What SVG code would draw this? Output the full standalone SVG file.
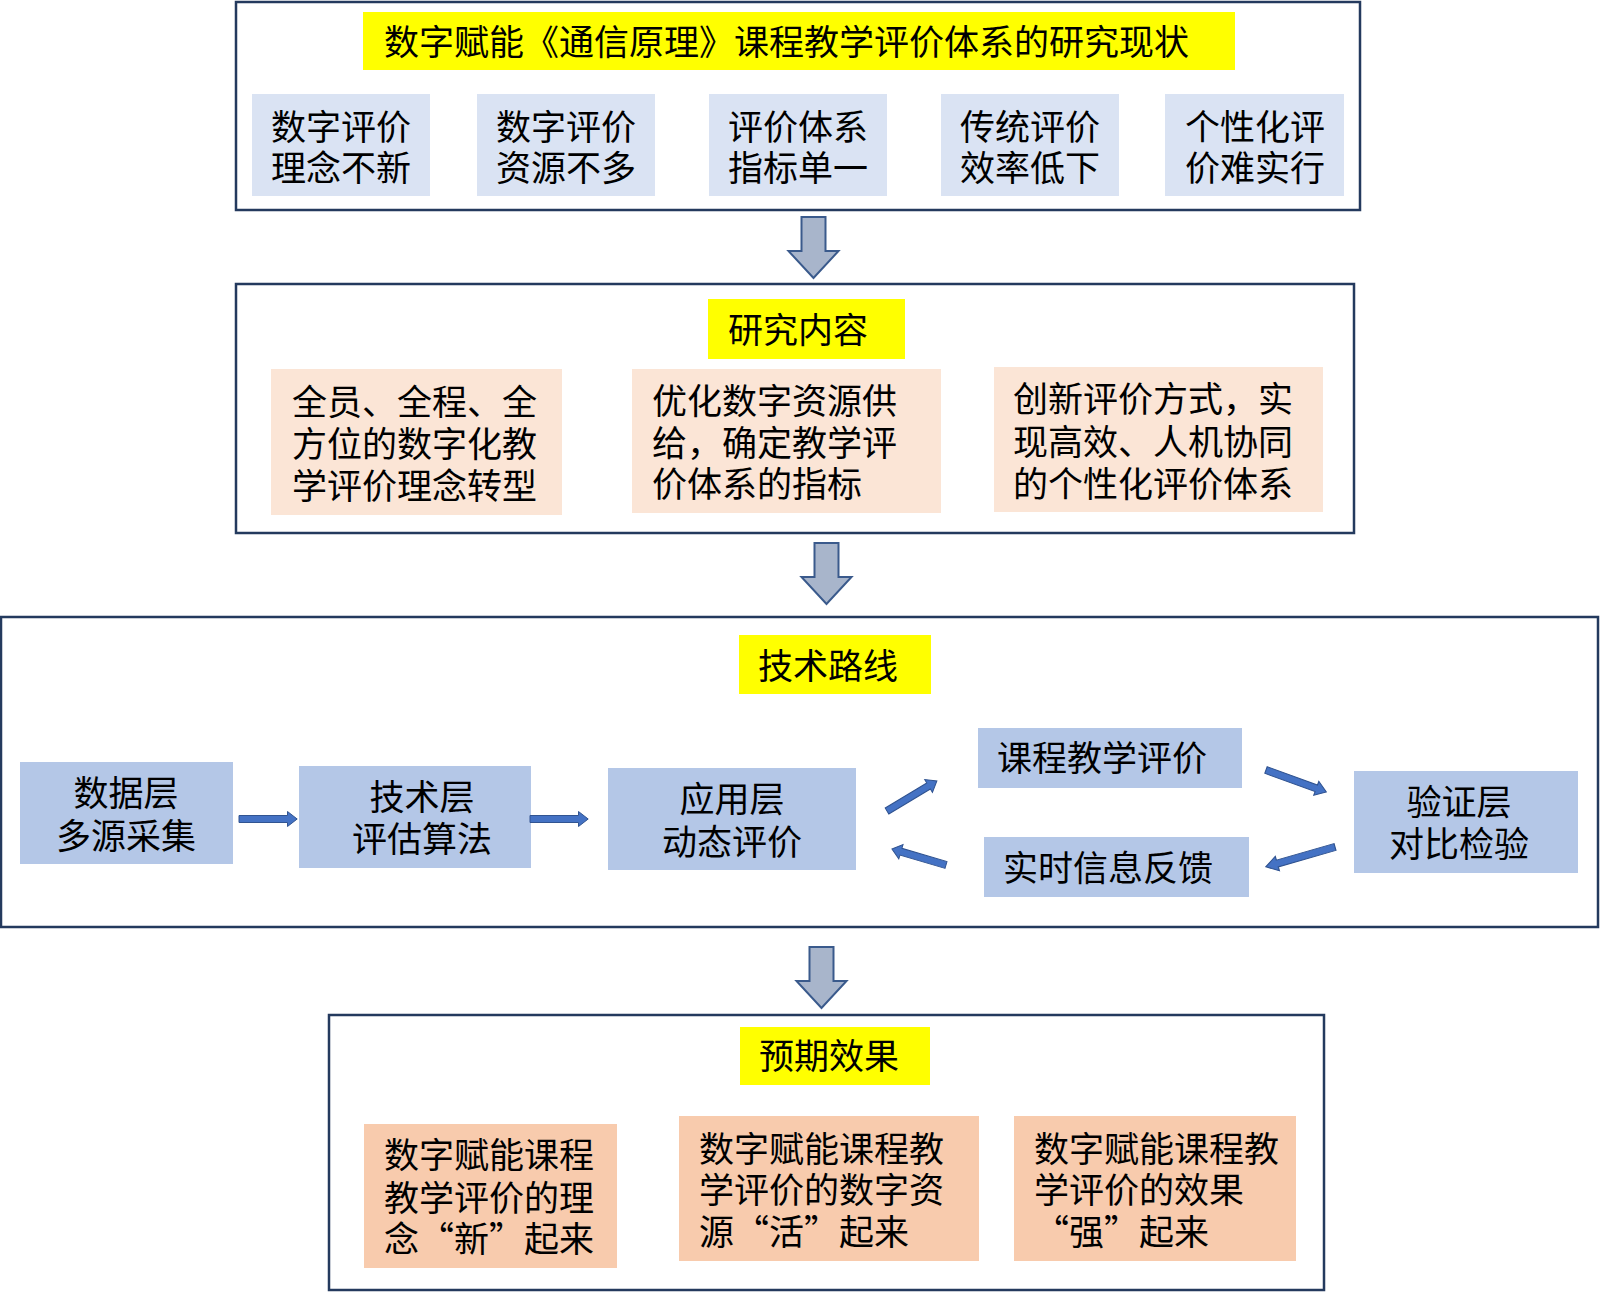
<svg xmlns="http://www.w3.org/2000/svg" xmlns:xlink="http://www.w3.org/1999/xlink" width="1600" height="1292" viewBox="0 0 1600 1292">
<style>
.frame{fill:#ffffff;stroke:#243a5e;stroke-width:2.5}
.yel{fill:#ffff00}
.lb{fill:#dae3f3}
.pk{fill:#fbe5d6}
.bl{fill:#b4c7e7}
.or{fill:#f8cbad}
text{font-family:"Noto Sans CJK SC","Noto Sans CJK JP",sans-serif;font-size:35px;fill:#000000}
.mid{text-anchor:middle}
.big{fill:#a8b5cb;stroke:#3a5a8c;stroke-width:2}
.blk{fill:#4472c4;stroke:#2f528f;stroke-width:1}
</style>
<defs>
<polygon id="down" points="-12,0 12,0 12,34 25,34 0,61 -25,34 -12,34"/>
<polygon id="ar" points="0,-3.5 50,-3.5 50,-7.5 60,0 50,7.5 50,3.5 0,3.5"/>
</defs>
<rect width="1600" height="1292" fill="#ffffff"/>

<g id="sec1">
<rect class="frame" x="236" y="2" width="1124" height="208"/>
<rect class="yel" x="363" y="12" width="872" height="58"/>
<text x="384" y="55">数字赋能《通信原理》课程教学评价体系的研究现状</text>
</g>
<g id="s1b1"><rect class="lb" x="252" y="94" width="178" height="102"/><text class="mid" x="341" y="140"><tspan x="341">数字评价</tspan><tspan x="341" dy="41">理念不新</tspan></text></g>
<g id="s1b2"><rect class="lb" x="477" y="94" width="178" height="102"/><text class="mid" x="566" y="140"><tspan x="566">数字评价</tspan><tspan x="566" dy="41">资源不多</tspan></text></g>
<g id="s1b3"><rect class="lb" x="709" y="94" width="178" height="102"/><text class="mid" x="798" y="140"><tspan x="798">评价体系</tspan><tspan x="798" dy="41">指标单一</tspan></text></g>
<g id="s1b4"><rect class="lb" x="941" y="94" width="178" height="102"/><text class="mid" x="1030" y="140"><tspan x="1030">传统评价</tspan><tspan x="1030" dy="41">效率低下</tspan></text></g>
<g id="s1b5"><rect class="lb" x="1165" y="94" width="179" height="102"/><text class="mid" x="1255" y="140"><tspan x="1255">个性化评</tspan><tspan x="1255" dy="41">价难实行</tspan></text></g>

<g id="sec2">
<rect class="frame" x="236" y="284" width="1118" height="249"/>
<rect class="yel" x="708" y="299" width="197" height="60"/>
<text x="728" y="343">研究内容</text>
</g>
<g id="s2b1"><rect class="pk" x="271" y="369" width="291" height="146"/>
<text x="292" y="415"><tspan x="292">全员、全程、全</tspan><tspan x="292" dy="42">方位的数字化教</tspan><tspan x="292" dy="42">学评价理念转型</tspan></text></g>
<g id="s2b2"><rect class="pk" x="632" y="369" width="309" height="144"/>
<text x="652" y="414"><tspan x="652">优化数字资源供</tspan><tspan x="652" dy="42">给，确定教学评</tspan><tspan x="652" dy="41">价体系的指标</tspan></text></g>
<g id="s2b3"><rect class="pk" x="994" y="367" width="329" height="145"/>
<text x="1013" y="412"><tspan x="1013">创新评价方式，实</tspan><tspan x="1013" dy="43">现高效、人机协同</tspan><tspan x="1013" dy="42">的个性化评价体系</tspan></text></g>

<g id="sec3">
<rect class="frame" x="1" y="617" width="1597" height="310"/>
<rect class="yel" x="739" y="635" width="192" height="59"/>
<text x="758" y="679">技术路线</text>
</g>
<g id="t1"><rect class="bl" x="20" y="762" width="213" height="102"/><text class="mid" x="126" y="806"><tspan x="126">数据层</tspan><tspan x="126" dy="43">多源采集</tspan></text></g>
<g id="t2"><rect class="bl" x="299" y="766" width="232" height="102"/><text class="mid" x="422" y="810"><tspan x="422">技术层</tspan><tspan x="422" dy="42">评估算法</tspan></text></g>
<g id="t3"><rect class="bl" x="608" y="768" width="248" height="102"/><text class="mid" x="732" y="812"><tspan x="732">应用层</tspan><tspan x="732" dy="43">动态评价</tspan></text></g>
<g id="t4"><rect class="bl" x="978" y="728" width="264" height="60"/><text x="997" y="771">课程教学评价</text></g>
<g id="t5"><rect class="bl" x="984" y="837" width="265" height="60"/><text x="1003" y="881">实时信息反馈</text></g>
<g id="t6"><rect class="bl" x="1354" y="771" width="224" height="102"/><text class="mid" x="1459" y="815"><tspan x="1459">验证层</tspan><tspan x="1459" dy="42">对比检验</tspan></text></g>

<g id="sec4">
<rect class="frame" x="329" y="1015" width="995" height="275"/>
<rect class="yel" x="740" y="1027" width="190" height="58"/>
<text x="759" y="1069">预期效果</text>
</g>
<g id="o1"><rect class="or" x="364" y="1124" width="253" height="144"/>
<text x="384" y="1168"><tspan x="384">数字赋能课程</tspan><tspan x="384" dy="43">教学评价的理</tspan><tspan x="384" dy="41">念“新”起来</tspan></text></g>
<g id="o2"><rect class="or" x="679" y="1116" width="300" height="145"/>
<text x="699" y="1162"><tspan x="699">数字赋能课程教</tspan><tspan x="699" dy="41">学评价的数字资</tspan><tspan x="699" dy="42">源“活”起来</tspan></text></g>
<g id="o3"><rect class="or" x="1014" y="1116" width="282" height="145"/>
<text x="1034" y="1162"><tspan x="1034">数字赋能课程教</tspan><tspan x="1034" dy="41">学评价的效果</tspan><tspan x="1034" dy="42">“强”起来</tspan></text></g>

<g id="connectors">
<use xlink:href="#down" class="big" transform="translate(813.5,217)"/>
<use xlink:href="#down" class="big" transform="translate(826.5,543)"/>
<use xlink:href="#down" class="big" transform="translate(821.5,947)"/>
<use xlink:href="#ar" class="blk" transform="translate(239,819) scale(0.97,1)"/>
<use xlink:href="#ar" class="blk" transform="translate(530,819) scale(0.97,1)"/>
<use xlink:href="#ar" class="blk" transform="translate(887,811) rotate(-31) scale(0.97,1)"/>
<use xlink:href="#ar" class="blk" transform="translate(1266,770) rotate(20) scale(1.07,1)"/>
<use xlink:href="#ar" class="blk" transform="translate(1335,847) rotate(164) scale(1.2,1)"/>
<use xlink:href="#ar" class="blk" transform="translate(946,865) rotate(196.5) scale(0.94,1)"/>
</g>
</svg>
